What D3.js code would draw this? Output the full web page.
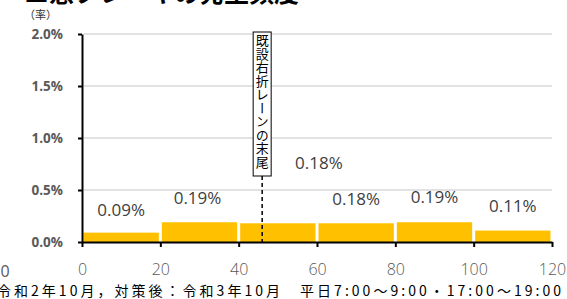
<!DOCTYPE html>
<html>
<head>
<meta charset="utf-8">
<script src="https://cdn.jsdelivr.net/npm/d3@7"></script>
<style>
  body { margin: 0; background: #fff; }
  svg { display: block; }
  text { font-family: "Open Sans", "Noto Sans CJK JP", sans-serif; }
  .jp { font-family: "Noto Sans CJK JP", sans-serif; }
</style>
</head>
<body>
<div id="chart"></div>
<script>
// -----------------------------
// data
// -----------------------------
const binStarts = [0, 20, 40, 60, 80, 100]
const binEnds = [20, 40, 60, 80, 100, 120]
const rates = [0.09, 0.19, 0.18, 0.18, 0.19, 0.11]
const rateLabels = ['0.09%', '0.19%', '0.18%', '0.18%', '0.19%', '0.11%']
// label anchor (distance, rate) - the 40-60 label sits clear of the marker box
const labelX = [10, 29.5, 60.5, 70, 90, 110]
const labelY = [0.31, 0.42, 0.76, 0.41, 0.43, 0.35]
const xTicks = [0, 20, 40, 60, 80, 100, 120]
const yTicks = [0, 0.5, 1.0, 1.5, 2.0]
const laneEnd = 46

const title = '■急ブレーキの発生頻度'
const notePre = '対策前：'
const note = '令和2年10月，対策後：令和3年10月　平日7:00～9:00・17:00～19:00'
const markerText = '既設右折レーンの末尾'

// -----------------------------
// layout
// -----------------------------
const w = 567
const h = 299
const colours = {
    bar: '#FFC000',
    grid: '#d9d9d9',
    axis: '#000',
    tick: '#595959',
    label: '#404040'
}

const x = d3.scaleLinear().domain([0, 120]).range([82, 552])
const y = d3.scaleLinear().domain([0, 2.0]).range([242, 34])

const svg = d3.select('#chart')
    .append('svg')
    .attr('width', w)
    .attr('height', h)

// title, cut at top
svg.append('text')
    .attr('class', 'jp')
    .attr('x', 24)
    .attr('y', 2)
    .attr('font-size', 25)
    .attr('font-weight', 'bold')
    .attr('fill', '#000')
    .text(title)

svg.append('text')
    .attr('class', 'jp')
    .attr('x', 24)
    .attr('y', 19)
    .attr('font-size', 11)
    .attr('fill', '#333')
    .text('（率）')

// gridlines
svg.append('g')
    .selectAll('line')
    .data(yTicks.filter(d => d > 0))
    .enter()
    .append('line')
    .attr('x1', x(0) + 2)
    .attr('x2', x(120))
    .attr('y1', d => y(d))
    .attr('y2', d => y(d))
    .attr('stroke', colours.grid)
    .attr('stroke-width', 1.5)

// bars
svg.append('g')
    .selectAll('rect')
    .data(rates)
    .enter()
    .append('rect')
    .attr('x', (d, i) => x(binStarts[i]) + 1.5)
    .attr('width', (d, i) => x(binEnds[i]) - x(binStarts[i]) - 3)
    .attr('y', d => y(d))
    .attr('height', d => y(0) - y(d))
    .attr('fill', colours.bar)

// bar labels
svg.append('g')
    .selectAll('text')
    .data(rateLabels)
    .enter()
    .append('text')
    .attr('x', (d, i) => x(labelX[i]))
    .attr('y', (d, i) => y(labelY[i]))
    .attr('dy', '0.35em')
    .attr('text-anchor', 'middle')
    .attr('font-size', 17)
    .attr('fill', colours.label)
    .text(d => d)

// y axis
const yAxis = d3.axisLeft(y)
    .tickValues(yTicks)
    .tickFormat(d => d.toFixed(1) + '%')
    .tickSize(4)
    .tickSizeOuter(0)

const gy = svg.append('g')
    .attr('transform', 'translate(' + x(0) + ',0)')
    .call(yAxis)
gy.select('.domain').attr('stroke', colours.axis).attr('stroke-width', 2)
gy.selectAll('.tick line').attr('stroke', colours.axis).attr('stroke-width', 2)
gy.selectAll('.tick text')
    .attr('x', -19)
    .attr('font-size', 13.5)
    .attr('font-weight', 'bold')
    .attr('fill', colours.tick)
    .attr('font-family', '"Open Sans", sans-serif')

// x axis
const xAxis = d3.axisBottom(x)
    .tickValues(xTicks)
    .tickSize(5)
    .tickSizeOuter(0)

const gx = svg.append('g')
    .attr('transform', 'translate(0,' + y(0) + ')')
    .call(xAxis)
gx.select('.domain').attr('stroke', colours.axis).attr('stroke-width', 2)
gx.selectAll('.tick line').attr('stroke', colours.axis).attr('stroke-width', 2)
gx.selectAll('.tick text')
    .attr('y', 22)
    .attr('font-size', 16)
    .attr('fill', colours.tick)
    .attr('font-family', '"DejaVu Sans", sans-serif')
    .attr('font-weight', 200)

// stray "0" from the neighbouring chart
svg.append('text')
    .attr('x', 5)
    .attr('y', y(0) + 35)
    .attr('text-anchor', 'middle')
    .attr('font-size', 16)
    .attr('fill', colours.tick)
    .attr('font-family', '"DejaVu Sans", sans-serif')
    .text('0')

// lane end marker
svg.append('line')
    .attr('x1', x(laneEnd))
    .attr('x2', x(laneEnd))
    .attr('y1', 176)
    .attr('y2', y(0))
    .attr('stroke', '#000')
    .attr('stroke-width', 1.5)
    .attr('stroke-dasharray', '4,3')

svg.append('rect')
    .attr('x', x(laneEnd) - 9)
    .attr('y', 32)
    .attr('width', 18)
    .attr('height', 144)
    .attr('fill', '#fff')
    .attr('stroke', '#000')
    .attr('stroke-width', 1)

svg.append('text')
    .attr('class', 'jp')
    .attr('x', x(laneEnd))
    .attr('y', 34)
    .attr('font-size', 13)
    .attr('fill', '#000')
    .attr('letter-spacing', 0.5)
    .style('writing-mode', 'vertical-rl')
    .style('text-orientation', 'upright')
    .text(markerText)

// footnote, cut at left
svg.append('text')
    .attr('class', 'jp')
    .attr('x', -1)
    .attr('y', 296)
    .attr('text-anchor', 'end')
    .attr('font-size', 14)
    .attr('fill', '#000')
    .text(notePre)

svg.append('text')
    .attr('class', 'jp')
    .attr('x', -3)
    .attr('y', 296)
    .attr('font-size', 14)
    .attr('fill', '#000')
    .attr('textLength', 564)
    .attr('lengthAdjust', 'spacing')
    .text(note)
</script>
</body>
</html>
